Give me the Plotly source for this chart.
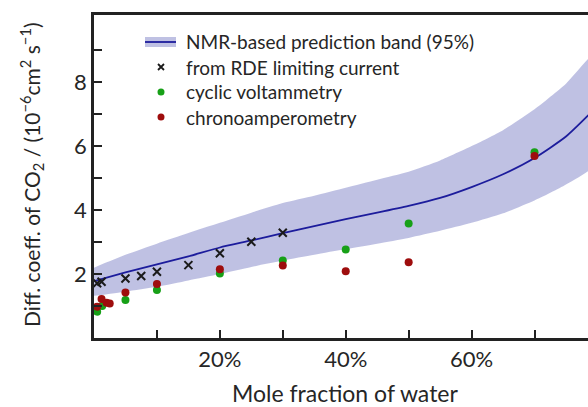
import plotly.graph_objects as go

# ---- data ----
band_x = [0.0, 0.05, 0.1, 0.15, 0.2, 0.25, 0.3, 0.35, 0.4, 0.45, 0.5, 0.55, 0.6, 0.65, 0.7, 0.75, 0.8]
band_center = [1.78, 2.05, 2.30, 2.55, 2.83, 3.05, 3.28, 3.50, 3.72, 3.92, 4.13, 4.38, 4.72, 5.12, 5.63, 6.30, 7.25]
band_upper = [2.20, 2.60, 2.95, 3.28, 3.60, 3.92, 4.22, 4.45, 4.70, 4.95, 5.20, 5.55, 6.00, 6.50, 7.15, 7.95, 8.95]
band_lower = [1.32, 1.45, 1.60, 1.80, 2.00, 2.22, 2.42, 2.60, 2.78, 2.95, 3.13, 3.35, 3.60, 3.90, 4.30, 4.80, 5.50]

rde_x = [0.005, 0.012, 0.05, 0.075, 0.10, 0.15, 0.20, 0.25, 0.30]
rde_y = [1.71, 1.76, 1.86, 1.94, 2.07, 2.28, 2.65, 3.01, 3.29]

cv_x = [0.005, 0.013, 0.05, 0.10, 0.20, 0.30, 0.40, 0.50, 0.70]
cv_y = [0.82, 1.00, 1.19, 1.50, 2.02, 2.42, 2.77, 3.58, 5.81]

ca_x = [0.005, 0.012, 0.02, 0.025, 0.05, 0.10, 0.20, 0.30, 0.40, 0.50, 0.70]
ca_y = [0.98, 1.22, 1.10, 1.08, 1.42, 1.69, 2.15, 2.27, 2.09, 2.37, 5.69]

x_tickvals = [0.2, 0.4, 0.6]
x_ticktext = ["20%", "40%", "60%"]
x_minorvals = [0.1, 0.3, 0.5, 0.7]
y_tickvals = [2, 4, 6, 8]
y_ticktext = ["2", "4", "6", "8"]
y_minorvals = [1, 3, 5, 7, 9]

legend_labels = ["NMR-based prediction band (95%)", "from RDE limiting current",
                 "cyclic voltammetry", "chronoamperometry"]

# ---- style ----
FONT = "Lato"
TXT = "#262626"
NAVY = "#1c1c9c"
BAND = "rgba(180,182,222,0.85)"
GREEN = "#17a017"
RED = "#9e0d0d"
XCOL = "#1a1a1a"

W, H = 588, 407
ML, MR, MT, MB = 94, 0, 15, 69
PW, PH = W - ML - MR, H - MT - MB


def px_x(p):
    return (p - ML) / PW


def px_y(p):
    return (H - MB - p) / PH


fig = go.Figure()

fig.add_trace(go.Scatter(
    x=band_x + band_x[::-1], y=band_upper + band_lower[::-1],
    fill="toself", fillcolor=BAND, mode="lines",
    line=dict(width=0, shape="spline", smoothing=0.6),
    showlegend=False, hoverinfo="skip"))

fig.add_trace(go.Scatter(
    x=band_x, y=band_center, mode="lines",
    line=dict(color=NAVY, width=1.8, shape="spline", smoothing=0.6),
    name=legend_labels[0], showlegend=False))

fig.add_trace(go.Scatter(
    x=rde_x, y=rde_y, mode="markers", name=legend_labels[1], showlegend=False,
    marker=dict(symbol="x-thin", size=8, line=dict(width=2, color=XCOL), color=XCOL)))

fig.add_trace(go.Scatter(
    x=cv_x, y=cv_y, mode="markers", name=legend_labels[2], showlegend=False,
    marker=dict(symbol="circle", size=8, color=GREEN)))

fig.add_trace(go.Scatter(
    x=ca_x, y=ca_y, mode="markers", name=legend_labels[3], showlegend=False,
    marker=dict(symbol="circle", size=8, color=RED)))

# ---- hand-drawn legend (keys as shapes, labels as text) ----
key_cx = 161
text_x = 184
rows = [42, 67, 92, 117]
shapes = []
annotations = []

shapes.append(dict(type="rect", xref="paper", yref="paper", layer="above",
                   x0=px_x(key_cx - 16), x1=px_x(key_cx + 15),
                   y0=px_y(rows[0] + 5), y1=px_y(rows[0] - 5),
                   fillcolor=BAND, line=dict(width=0)))
shapes.append(dict(type="line", xref="paper", yref="paper", layer="above",
                   x0=px_x(key_cx - 16), x1=px_x(key_cx + 15),
                   y0=px_y(rows[0]), y1=px_y(rows[0]),
                   line=dict(color=NAVY, width=1.8)))
r = 3
cy = rows[1]
shapes.append(dict(type="path", xref="paper", yref="paper", layer="above",
                   path=(f"M{px_x(key_cx - r)},{px_y(cy - r)} L{px_x(key_cx + r)},{px_y(cy + r)} "
                         f"M{px_x(key_cx - r)},{px_y(cy + r)} L{px_x(key_cx + r)},{px_y(cy - r)}"),
                   line=dict(color=XCOL, width=1.8)))
for cy, col in ((rows[2], GREEN), (rows[3], RED)):
    shapes.append(dict(type="circle", xref="paper", yref="paper", layer="above",
                       x0=px_x(key_cx - 3.5), x1=px_x(key_cx + 3.5),
                       y0=px_y(cy + 3.5), y1=px_y(cy - 3.5),
                       fillcolor=col, line=dict(width=0)))

for lab, cy in zip(legend_labels, rows):
    annotations.append(dict(text=lab, xref="paper", yref="paper",
                            x=px_x(text_x), y=px_y(cy), xanchor="left", yanchor="middle",
                            showarrow=False, font=dict(size=19, color=TXT)))

annotations.append(dict(text="Mole fraction of water", xref="paper", yref="paper",
                        x=px_x(345), y=0, yshift=-55, xanchor="center", yanchor="middle",
                        showarrow=False, font=dict(size=23, color=TXT)))
annotations.append(dict(
    text="Diff. coeff. of CO<sub>2</sub> / (10<sup>\u22126</sup>cm<sup>2</sup> s<sup>\u22121</sup>)",
    xref="paper", yref="paper", x=0, xshift=32 - ML, y=px_y(175),
    xanchor="center", yanchor="middle", textangle=-90,
    showarrow=False, font=dict(size=21, color=TXT)))

fig.update_layout(
    width=W, height=H,
    margin=dict(l=ML, r=MR, t=MT, b=MB),
    paper_bgcolor="white", plot_bgcolor="white",
    font=dict(family=FONT, color=TXT, size=17),
    showlegend=False,
    xaxis=dict(range=[0, 0.785], showgrid=False, zeroline=False,
               showline=True, linecolor="#222", linewidth=2.5, mirror=True,
               ticks="inside", ticklen=8, tickwidth=2, tickcolor="#222",
               tickvals=x_tickvals, ticktext=x_ticktext,
               minor=dict(tickvals=x_minorvals, ticks="inside", ticklen=8,
                          tickwidth=2, tickcolor="#222", showgrid=False),
               tickfont=dict(size=22, color=TXT)),
    yaxis=dict(range=[0, 10.1], showgrid=False, zeroline=False,
               showline=True, linecolor="#222", linewidth=2.5, mirror=False,
               ticks="inside", ticklen=8, tickwidth=2, tickcolor="#222",
               tickvals=y_tickvals, ticktext=y_ticktext,
               minor=dict(tickvals=y_minorvals, ticks="inside", ticklen=8,
                          tickwidth=2, tickcolor="#222", showgrid=False),
               tickfont=dict(size=22, color=TXT)),
    shapes=shapes,
    annotations=annotations,
)

fig.write_html("out.html")
